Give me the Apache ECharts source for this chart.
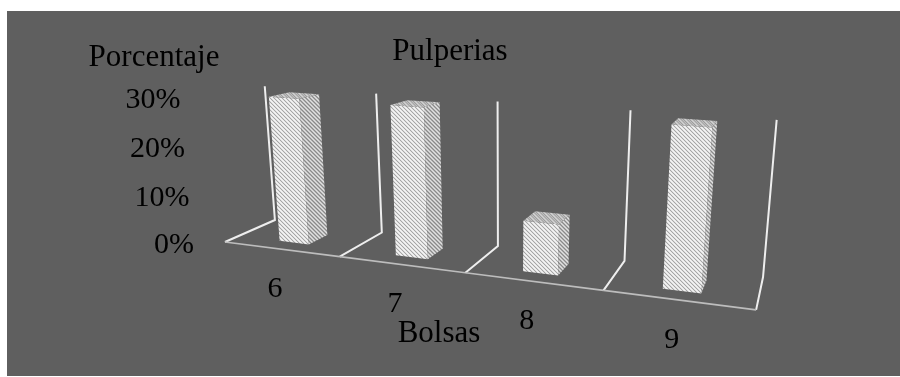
<!DOCTYPE html>
<html>
<head>
<meta charset="utf-8">
<script src="https://cdn.jsdelivr.net/npm/echarts@6/dist/echarts.min.js"></script>
<style>
  html, body { margin: 0; padding: 0; background: #ffffff; }
  #chart { width: 900px; height: 377px; }
</style>
</head>
<body>
<div id="chart"></div>
<script>
// ---- data ----
const categories = ['6', '7', '8', '9'];
const shares = [0.30, 0.30, 0.10, 0.30];
const tickValues = [0, 0.1, 0.2, 0.3];
const tickLabels = ['0%', '10%', '20%', '30%'];
const chartTitle = 'Pulperias';
const valueAxisName = 'Porcentaje';
const categoryAxisName = 'Bolsas';

// ---- 3-D view ----
// World space: x runs along the category band (grid pixels), y up the value axis
// (grid pixels), z goes back across the floor. The camera looks down from the front right.
const VIEW = {
  cx: 563, cy: 199, f: 833,
  origin: [-405.8, -51.6, 1000],
  ex: [0.956, -0.0936, -0.277],
  ey: [0.0183, 0.9647, -0.2629],
  ez: [0.292, 0.246, 0.924]
};
const FLOOR_DEPTH = 98;
const BAR_RATIO = 0.26;
const BAR_Z = [26, 66];
const FONT = '"Liberation Serif", "Times New Roman", serif';

function project(x, y, z) {
  const o = VIEW.origin, a = VIEW.ex, b = VIEW.ey, c = VIEW.ez;
  const X = o[0] + x * a[0] + y * b[0] + z * c[0];
  const Y = o[1] + x * a[1] + y * b[1] + z * c[1];
  const Z = o[2] + x * a[2] + y * b[2] + z * c[2];
  return [VIEW.cx + VIEW.f * X / Z, VIEW.cy - VIEW.f * Y / Z];
}

// diagonal hatch tiles for the column faces
function hatch(colors) {
  const n = colors.length;
  const cv = document.createElement('canvas');
  cv.width = n; cv.height = n;
  const g = cv.getContext('2d');
  for (let y = 0; y < n; y++) {
    for (let x = 0; x < n; x++) {
      g.fillStyle = colors[((x - y) % n + n) % n];
      g.fillRect(x, y, 1, 1);
    }
  }
  return { image: cv, repeat: 'repeat' };
}
const frontFill = hatch(['#a6a6a6', '#dedede', '#f4f4f4', '#e6e6e6']);
const sideFill = hatch(['#8a8a8a', '#c4c4c4', '#e0e0e0', '#b0b0b0']);
const topFill = hatch(['#9c9c9c', '#c2c2c2', '#d2d2d2', '#b6b6b6', '#a8a8a8', '#bebebe']);

function worldX(params, px) { return px - params.coordSys.x; }
function worldY(params, py) { return params.coordSys.y + params.coordSys.height - py; }

function renderFrame(params, api) {
  const i = api.value(0);
  const band = api.size([1, 0])[0];
  const H = params.coordSys.height;
  const xl = worldX(params, api.coord([i, 0])[0]) - band / 2;
  const children = [];
  const wall = (xb) => ({
    type: 'polyline',
    shape: { points: [project(xb, 0, 0), project(xb, 0, FLOOR_DEPTH), project(xb, H, FLOOR_DEPTH)] },
    style: { stroke: '#eeeeee', lineWidth: 2, fill: null }
  });
  children.push(wall(xl));
  if (i === categories.length - 1) children.push(wall(xl + band));
  children.push({
    type: 'line',
    shape: (() => { const p = project(xl, 0, 0), q = project(xl + band, 0, 0); return { x1: p[0], y1: p[1], x2: q[0], y2: q[1] }; })(),
    style: { stroke: '#bdbdbd', lineWidth: 1.6 }
  });
  return { type: 'group', children };
}

function renderColumn(params, api) {
  const i = api.value(0);
  const band = api.size([1, 0])[0];
  const xc = worldX(params, api.coord([i, 0])[0]);
  const h = worldY(params, api.coord([i, api.value(1)])[1]);
  const x0 = xc - band * BAR_RATIO / 2, x1 = xc + band * BAR_RATIO / 2;
  const z0 = BAR_Z[0], z1 = BAR_Z[1];
  const poly = (pts, fill) => ({
    type: 'polygon',
    shape: { points: pts.map(p => project(p[0], p[1], p[2])) },
    style: { fill: fill, stroke: null }
  });
  const base = project(xc, 0, 0);
  return {
    type: 'group',
    children: [
      poly([[x0, 0, z0], [x1, 0, z0], [x1, h, z0], [x0, h, z0]], frontFill),
      poly([[x1, 0, z0], [x1, 0, z1], [x1, h, z1], [x1, h, z0]], sideFill),
      poly([[x0, h, z0], [x1, h, z0], [x1, h, z1], [x0, h, z1]], topFill),
      {
        type: 'text', x: base[0] - 6, y: base[1] + 40,
        style: { text: categories[i], fill: '#000', font: '30px ' + FONT, align: 'center', verticalAlign: 'middle' }
      }
    ]
  };
}

function renderTick(params, api) {
  const v = api.value(1);
  const band = api.size([1, 0])[0];
  const xl = worldX(params, api.coord([0, 0])[0]) - band / 2;
  const p = project(xl, worldY(params, api.coord([0, v])[1]), 0);
  return {
    type: 'text', x: p[0] - 31, y: p[1] + 3,
    style: { text: tickLabels[api.value(2)], fill: '#000', font: '30px ' + FONT, align: 'right', verticalAlign: 'middle' }
  };
}

const chart = echarts.init(document.getElementById('chart'), null, { renderer: 'canvas' });
chart.setOption({
  animation: false,
  backgroundColor: '#ffffff',
  grid: { left: 100, top: 100, width: 625, height: 175 },
  xAxis: { type: 'category', data: categories, show: false },
  yAxis: { type: 'value', min: 0, max: tickValues[tickValues.length - 1], interval: 0.1, show: false },
  graphic: [
    { type: 'rect', z: -10, shape: { x: 7, y: 11, width: 893, height: 365 }, style: { fill: '#5f5f5f' } },
    { type: 'text', x: 450, y: 52, style: { text: chartTitle, fill: '#000', font: '31px ' + FONT, align: 'center', verticalAlign: 'middle' } },
    { type: 'text', x: 154, y: 58, style: { text: valueAxisName, fill: '#000', font: '31px ' + FONT, align: 'center', verticalAlign: 'middle' } },
    { type: 'text', x: 439, y: 334, style: { text: categoryAxisName, fill: '#000', font: '31px ' + FONT, align: 'center', verticalAlign: 'middle' } }
  ],
  series: [
    { type: 'custom', renderItem: renderFrame, data: categories.map((c, i) => [i, 0]), z: 1 },
    { type: 'custom', renderItem: renderTick, data: tickValues.map((v, k) => [0, v, k]), z: 2 },
    { type: 'custom', renderItem: renderColumn, data: shares.map((v, i) => [i, v]), z: 3 }
  ]
});
</script>
</body>
</html>
